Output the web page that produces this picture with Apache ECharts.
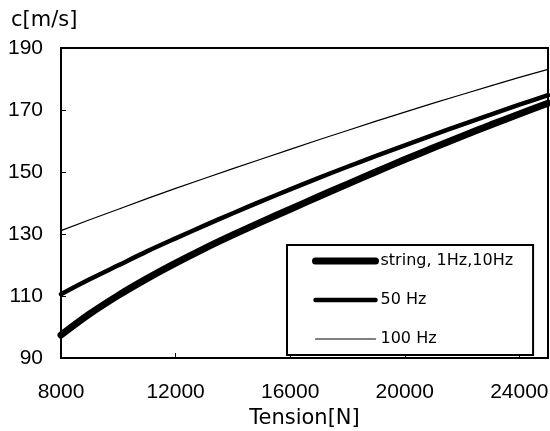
<!DOCTYPE html>
<html>
<head>
<meta charset="utf-8">
<script src="https://cdn.jsdelivr.net/npm/echarts@6/dist/echarts.min.js"></script>
<style>
  html, body { margin: 0; padding: 0; background: #fff; }
  #chart { width: 550px; height: 431px; }
</style>
</head>
<body>
<div id="chart"></div>
<script>
// tension values on x (N)
var tension = [8000, 9000, 10000, 11000, 12000, 13000, 14000, 15000, 16000,
    17000, 18000, 19000, 20000, 21000, 22000, 23000, 24000, 25000];
// wave speed c [m/s]
var cString = [97.4, 104.2, 110.2, 115.6, 120.6, 125.3, 129.7, 133.9, 138.0,
    142.1, 146.1, 150.1, 154.0, 157.8, 161.5, 165.2, 168.7, 172.2];
var c50 = [110.6, 115.4, 119.9, 124.4, 128.6, 132.7, 136.7, 140.6, 144.4,
    148.1, 151.7, 155.2, 158.6, 162.0, 165.3, 168.5, 171.7, 174.8];
var c100 = [131.1, 134.6, 138.0, 141.4, 144.7, 147.9, 151.1, 154.2, 157.3,
    160.4, 163.4, 166.4, 169.3, 172.2, 175.0, 177.8, 180.5, 183.1];
var seriesNames = ['string, 1Hz,10Hz', '50 Hz', '100 Hz'];
var lineWidths = [7, 4.5, 1.2];

function pairs(ys) {
    var out = [];
    for (var i = 0; i < tension.length; i++) {
        out.push([tension[i], ys[i]]);
    }
    return out;
}

var myChart = echarts.init(document.getElementById('chart'));
var numFont = { fontFamily: 'Liberation Sans', fontSize: 21, color: '#000' };

// legend entries: plain black strokes, no marker dot
var legendData = [];
for (var k = 0; k < seriesNames.length; k++) {
    legendData.push({
        name: seriesNames[k],
        itemStyle: { opacity: 0 },
        lineStyle: { color: '#000', width: lineWidths[k], cap: 'round' }
    });
}

var option = {
    backgroundColor: '#fff',
    animation: false,
    color: ['#000', '#000', '#000'],
    title: {
        text: 'c[m/s]',
        left: 6,
        top: 5,
        textStyle: { fontFamily: 'DejaVu Sans', fontSize: 21, fontWeight: 'normal', color: '#000' }
    },
    grid: {
        left: 61, right: 2, top: 48, bottom: 73,
        outerBoundsMode: 'none',
        containLabel: false,
        show: true, borderColor: '#000', borderWidth: 2
    },
    legend: {
        data: legendData,
        orient: 'vertical',
        left: 287,
        top: 245,
        itemWidth: 60,
        itemHeight: 14,
        itemGap: 23,
        padding: [8, 20, 8, 25],
        backgroundColor: '#fff',
        borderColor: '#000',
        borderWidth: 2,
        textStyle: { fontFamily: 'DejaVu Sans', fontSize: 16, color: '#000' }
    },
    xAxis: {
        type: 'value',
        min: 8000,
        max: 25000,
        interval: 4000,
        name: 'Tension[N]',
        nameLocation: 'middle',
        nameGap: 49,
        nameTextStyle: { fontFamily: 'DejaVu Sans', fontSize: 21, color: '#000' },
        splitLine: { show: false },
        axisLine: { lineStyle: { color: '#000', width: 2 } },
        axisTick: { inside: true, length: 5, lineStyle: { color: '#000' } },
        axisLabel: {
            margin: 24,
            fontFamily: numFont.fontFamily, fontSize: numFont.fontSize, color: numFont.color,
            formatter: function (v) { return (v - 8000) % 4000 === 0 ? String(v) : ''; }
        }
    },
    yAxis: {
        type: 'value',
        min: 90,
        max: 190,
        interval: 20,
        splitLine: { show: false },
        axisLine: { lineStyle: { color: '#000', width: 2 } },
        axisTick: { inside: true, length: 5, lineStyle: { color: '#000' } },
        axisLabel: {
            margin: 18,
            fontFamily: numFont.fontFamily, fontSize: numFont.fontSize, color: numFont.color
        }
    },
    series: [
        {
            name: seriesNames[0], type: 'line', symbol: 'none', smooth: 0.3,
            lineStyle: { color: '#000', width: lineWidths[0], cap: 'round' },
            data: pairs(cString)
        },
        {
            name: seriesNames[1], type: 'line', symbol: 'none', smooth: 0.3,
            lineStyle: { color: '#000', width: lineWidths[1], cap: 'round' },
            data: pairs(c50)
        },
        {
            name: seriesNames[2], type: 'line', symbol: 'none',
            lineStyle: { color: '#000', width: lineWidths[2] },
            data: pairs(c100)
        }
    ]
};

myChart.setOption(option);
</script>
</body>
</html>
